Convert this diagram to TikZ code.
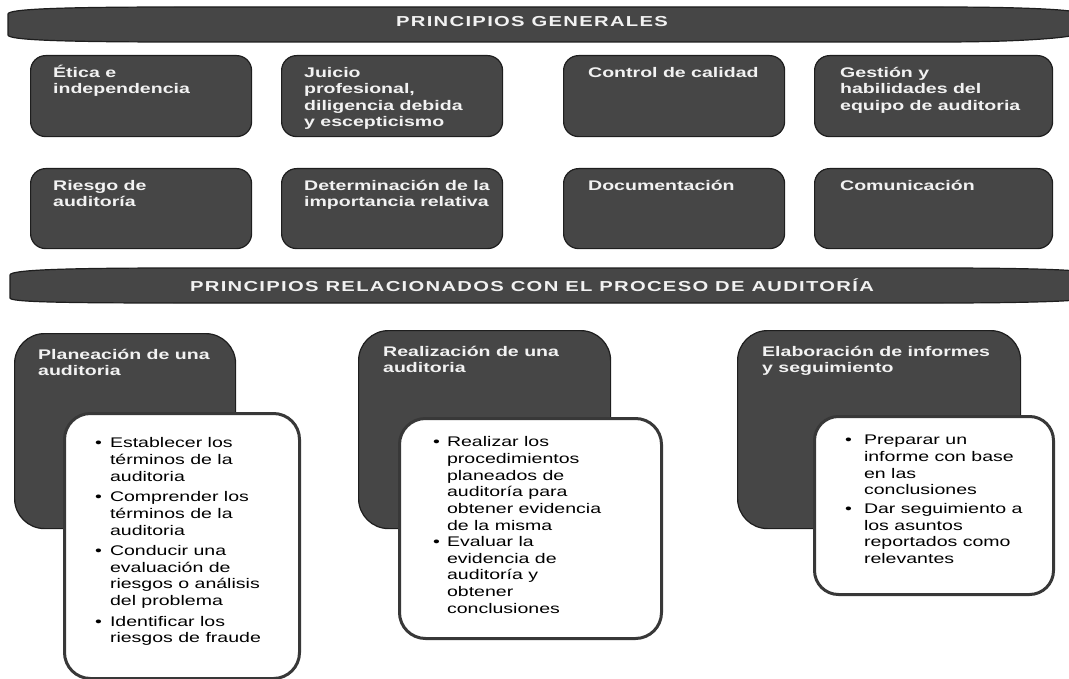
\documentclass[tikz,border=0pt]{standalone}
\usepackage{fontspec}
\setmainfont{Liberation Sans}[FakeStretch=1.4]
\newfontfamily\bannerfont{Liberation Sans}[FakeStretch=1.4,LetterSpace=9]

\definecolor{boxgray}{HTML}{464646}
\definecolor{edgegray}{HTML}{1E1E1E}
\definecolor{listedge}{HTML}{383838}
\definecolor{lighttext}{HTML}{F2F2F2}

\newcommand{\topstrut}{\rule{0pt}{13bp}}

\tikzset{
  bandshape/.style={fill=boxgray, draw=edgegray, line width=1.2bp},
  bandtext/.style={text=lighttext, font=\bannerfont\bfseries\fontsize{14.5}{16}\selectfont, inner sep=0pt},
  graybox/.style={draw=edgegray, fill=boxgray, line width=1.2bp, rounded corners=15bp, anchor=north west, inner sep=0pt},
  graytext/.style={text=lighttext, font=\bfseries\fontsize{14}{16.5}\selectfont, align=left, anchor=north west, inner sep=0pt},
  listbox/.style={draw=listedge, fill=white, line width=3bp, rounded corners=26bp, anchor=north west, inner sep=0pt},
  listtext/.style={font=\fontsize{14}{16.7}\selectfont, anchor=north west, inner sep=0pt},
}

\begin{document}
\begin{tikzpicture}[x=1bp, y=-1bp]
\useasboundingbox (0,0) rectangle (1069,679);

% banners
\draw[bandshape] (8,14) .. controls (8,9) and (60,7) .. (180,7) -- (940,7)
  .. controls (1030,7) and (1069,10) .. (1075,12) -- (1075,35)
  .. controls (1069,37) and (1030,42) .. (940,42) -- (180,42)
  .. controls (60,42) and (8,40) .. (8,35) -- cycle;
\node[bandtext] (generales) at (532,22) {PRINCIPIOS GENERALES};

\draw[bandshape] (10,275) .. controls (10,270) and (60,268) .. (180,268) -- (940,268)
  .. controls (1030,268) and (1069,270) .. (1075,271) -- (1075,300)
  .. controls (1069,301) and (1030,303) .. (940,303) -- (180,303)
  .. controls (60,303) and (10,302) .. (10,298) -- cycle;
\node[bandtext] (proceso) at (532,285) {PRINCIPIOS RELACIONADOS CON EL PROCESO DE AUDITORÍA};

% principios generales, first row
\node[graybox, minimum width=221bp, minimum height=81bp] (etica) at (30,55) {};
\node[graytext] (etica-t) at ([xshift=23bp,yshift=-9bp]etica.north west) {\topstrut Ética e\\independencia};

\node[graybox, minimum width=221bp, minimum height=81bp] (juicio) at (281,55) {};
\node[graytext] (juicio-t) at ([xshift=23bp,yshift=-9bp]juicio.north west) {\topstrut Juicio\\profesional,\\diligencia debida\\y escepticismo};

\node[graybox, minimum width=221bp, minimum height=81bp] (calidad) at (563,55) {};
\node[graytext] (calidad-t) at ([xshift=25bp,yshift=-9bp]calidad.north west) {\topstrut Control de calidad};

\node[graybox, minimum width=238bp, minimum height=81bp] (gestion) at (814,55) {};
\node[graytext] (gestion-t) at ([xshift=26bp,yshift=-9bp]gestion.north west) {\topstrut Gestión y\\habilidades del\\equipo de auditoria};

% second row
\node[graybox, minimum width=221bp, minimum height=80bp] (riesgo) at (30,168) {};
\node[graytext] (riesgo-t) at ([xshift=23bp,yshift=-9bp]riesgo.north west) {\topstrut Riesgo de\\auditoría};

\node[graybox, minimum width=221bp, minimum height=80bp] (importancia) at (281,168) {};
\node[graytext] (importancia-t) at ([xshift=23bp,yshift=-9bp]importancia.north west) {\topstrut Determinación de la\\importancia relativa};

\node[graybox, minimum width=221bp, minimum height=80bp] (documentacion) at (563,168) {};
\node[graytext] (documentacion-t) at ([xshift=25bp,yshift=-9bp]documentacion.north west) {\topstrut Documentación};

\node[graybox, minimum width=238bp, minimum height=80bp] (comunicacion) at (814,168) {};
\node[graytext] (comunicacion-t) at ([xshift=26bp,yshift=-9bp]comunicacion.north west) {\topstrut Comunicación};

% proceso de auditoria
\node[graybox, rounded corners=30bp, minimum width=221bp, minimum height=195bp] (planeacion) at (14,333) {};
\node[graytext] (planeacion-t) at ([xshift=24bp,yshift=-13bp]planeacion.north west) {\topstrut Planeación de una\\auditoria};

\node[graybox, rounded corners=30bp, minimum width=252bp, minimum height=198bp] (realizacion) at (358,330) {};
\node[graytext] (realizacion-t) at ([xshift=25bp,yshift=-13bp]realizacion.north west) {\topstrut Realización de una\\auditoria};

\node[graybox, rounded corners=30bp, minimum width=283bp, minimum height=198bp] (informes) at (737,330) {};
\node[graytext] (informes-t) at ([xshift=25bp,yshift=-13bp]informes.north west) {\topstrut Elaboración de informes\\y seguimiento};

\node[listbox, minimum width=235bp, minimum height=265bp] (planeacion-w) at (63,412) {};
\node[listtext] (planeacion-l) at ([xshift=32bp,yshift=-24bp]planeacion-w.north west) {%
\begin{tabular}{@{}l@{\hspace{8bp}}l@{}}
\textbullet & Establecer los\\
 & términos de la\\
 & auditoria\\[4bp]
\textbullet & Comprender los\\
 & términos de la\\
 & auditoria\\[4bp]
\textbullet & Conducir una\\
 & evaluación de\\
 & riesgos o análisis\\
 & del problema\\[4bp]
\textbullet & Identificar los\\
 & riesgos de fraude
\end{tabular}};

\node[listbox, minimum width=262bp, minimum height=220bp] (realizacion-w) at (398,417) {};
\node[listtext] (realizacion-l) at ([xshift=35bp,yshift=-18bp]realizacion-w.north west) {%
\begin{tabular}{@{}l@{\hspace{7bp}}l@{}}
\textbullet & Realizar los\\
 & procedimientos\\
 & planeados de\\
 & auditoría para\\
 & obtener evidencia\\
 & de la misma\\
\textbullet & Evaluar la\\
 & evidencia de\\
 & auditoría y\\
 & obtener\\
 & conclusiones
\end{tabular}};

\node[listbox, rounded corners=24bp, minimum width=239bp, minimum height=178bp] (informes-w) at (813,415) {};
\node[listtext] (informes-l) at ([xshift=32bp,yshift=-18bp]informes-w.north west) {%
\begin{tabular}{@{}l@{\hspace{12bp}}l@{}}
\textbullet & Preparar un\\
 & informe con base\\
 & en las\\
 & conclusiones\\[2bp]
\textbullet & Dar seguimiento a\\
 & los asuntos\\
 & reportados como\\
 & relevantes
\end{tabular}};

\end{tikzpicture}
\end{document}
